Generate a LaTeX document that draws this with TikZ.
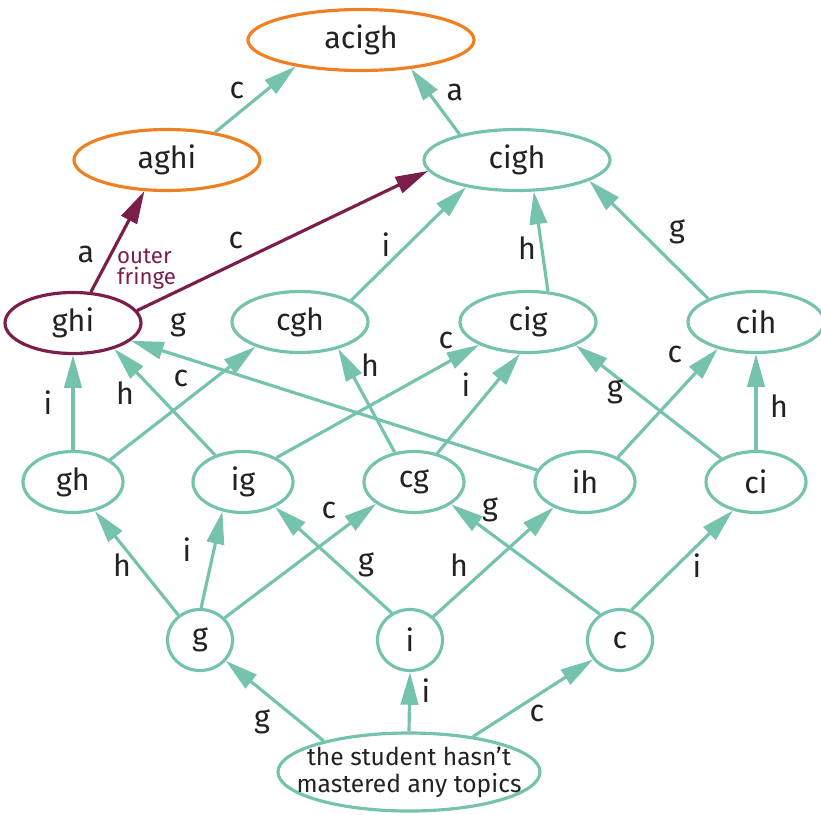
\documentclass[tikz,border=0pt]{standalone}
\usepackage{fontspec}
\setmainfont{Fira Sans}
\usetikzlibrary{shapes,arrows.meta}
\definecolor{topicgreen}{HTML}{76C3AD}
\definecolor{goalorange}{HTML}{F07F22}
\definecolor{fringepurple}{HTML}{7B1E4B}
\definecolor{lblblack}{HTML}{222222}
\tikzset{
topic/.style={
	  draw=topicgreen, ellipse, line width=2.7pt, inner sep=0pt,
	    text=lblblack, font=\fontsize{26}{28}\selectfont,
    minimum height=1.83cm},
goal/.style={topic, draw=goalorange},
fringe/.style={topic, draw=fringepurple},
wide/.style={minimum width=5.58cm},
mid/.style={minimum width=4.08cm},
small/.style={minimum width=3cm},
single/.style={minimum width=1.95cm},
lbl/.style={text=lblblack, inner sep=0pt, font=\fontsize{26}{28}\selectfont},
link/.style={draw=topicgreen, line width=2.7pt,
	-{Triangle[length=0.98cm, width=0.52cm]}},
flink/.style={link, draw=fringepurple, fill=fringepurple}
}

\begin{document}
\begin{tikzpicture}[x=0.03cm, y=-0.03cm]
	\useasboundingbox (0,0) rectangle (821,814);
	\node[goal, minimum width=6.78cm] (acigh) at (361,40) {acigh};
	\node[goal, wide] (aghi) at (167,160) {aghi};
	\node[topic, wide] (cigh) at (517,160) {cigh};
	\node[fringe, mid] (ghi) at (73,323) {ghi};
	\node[topic, mid] (cgh) at (300,322) {cgh};
	\node[topic, mid] (cig) at (528,322) {cig};
	\node[topic, mid] (cih) at (756,322) {cih};
	\node[topic, small] (gh) at (73,482) {gh};
	\node[topic, small] (ig) at (243,482) {ig};
	\node[topic, small] (cg) at (414,482) {cg};
	\node[topic, small] (ih) at (585,482) {ih};
	\node[topic, small] (ci) at (756,482) {ci};
	\node[topic, single] (g) at (200,640) {g};
	\node[topic, single] (i) at (410,640) {i};
	\node[topic, single] (c) at (620,640) {c};
	\node[topic, minimum width=7.86cm, minimum height=2.34cm, inner xsep=-30pt,
		inner ysep=-8pt, align=center, font=\fontsize{21}{23}\selectfont]
		(none) at (409,772) {the student hasn’t\\mastered any topics};

	\draw[link] (aghi.30) -- (acigh.202);
	\draw[link] (cigh.156) -- (acigh.330);
	\draw[flink] (ghi.60) -- (aghi.234);
	\draw[flink] (ghi.11) -- (cigh.187);
	\draw[link] (cgh.23) -- (cigh.208);
	\draw[link] (cig.57) -- (cigh.298);
	\draw[link] (cih.154) -- (cigh.344);
	\draw[link] (gh.90) -- (ghi.270);
	\draw[link] (ig.136) -- (ghi.328);
	\draw[link] (ih.166) -- (ghi.343);
	\draw[link] (gh.31) -- (cgh.209);
	\draw[link] (cg.123) -- (cgh.325);
	\draw[link] (ig.36) -- (cig.205);
	\draw[link] (cg.51) -- (cig.256);
	\draw[link] (ci.146) -- (cig.334);
	\draw[link] (ih.37) -- (cih.215);
	\draw[link] (ci.90) -- (cih.270);
	\draw[link] (g.131) -- (gh.307);
	\draw[link] (g.88) -- (ig.235);
	\draw[link] (g.42) -- (cg.210);
	\draw[link] (i.124) -- (ig.322);
	\draw[link] (i.45) -- (ih.219);
	\draw[link] (c.128) -- (cg.329);
	\draw[link] (c.69) -- (ci.231);
	\draw[link] (none.160) -- (g.321);
	\draw[link] (none.90) -- (i.270);
	\draw[link] (none.29) -- (c.216);

	\node[lbl] (l1) at (237,90) {c};
	\node[lbl] (l2) at (455,92) {a};
	\node[lbl] (l3) at (86,254) {a};
	\node[lbl] (l4) at (236,240) {c};
	\node[lbl] (l5) at (386,245) {i};
	\node[lbl] (l6) at (527,248) {h};
	\node[lbl] (l7) at (677,232) {g};
	\node[lbl] (l8) at (48,403) {i};
	\node[lbl] (l9) at (125,393) {h};
	\node[lbl] (l10) at (178,325) {g};
	\node[lbl] (l11) at (181,378) {c};
	\node[lbl] (l12) at (370,365) {h};
	\node[lbl] (l13) at (446,340) {c};
	\node[lbl] (l14) at (466,385) {i};
	\node[lbl] (l15) at (615,392) {g};
	\node[lbl] (l16) at (675,354) {c};
	\node[lbl] (l17) at (779,406) {h};
	\node[lbl] (l18) at (122,565) {h};
	\node[lbl] (l19) at (187,550) {i};
	\node[lbl] (l20) at (329,510) {c};
	\node[lbl] (l21) at (366,565) {g};
	\node[lbl] (l22) at (459,565) {h};
	\node[lbl] (l23) at (490,510) {g};
	\node[lbl] (l24) at (697,566) {i};
	\node[lbl] (l25) at (262,722) {g};
	\node[lbl] (l26) at (426,691) {i};
	\node[lbl] (l27) at (537,713) {c};
	\node[text=fringepurple, align=left, inner sep=0pt, anchor=west,
		font=\fontsize{19}{18}\selectfont] (outer) at (117,269) {outer\\fringe};
\end{tikzpicture}
\end{document}
